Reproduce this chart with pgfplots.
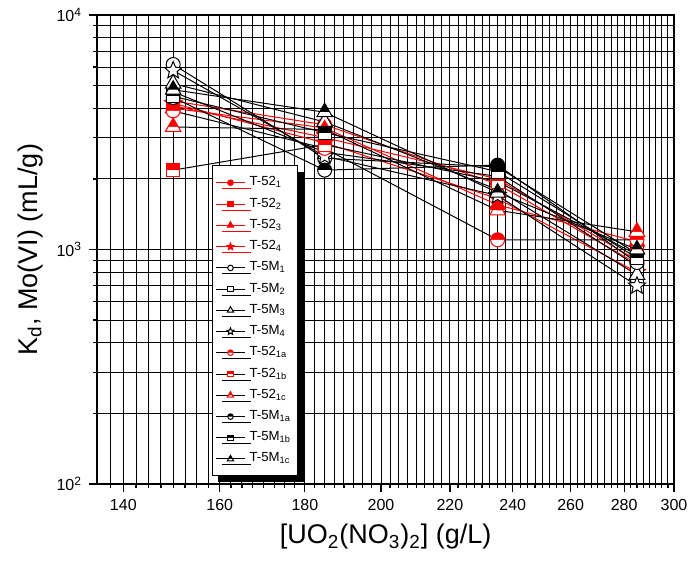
\documentclass[border=0pt]{standalone}
\usepackage{fontspec}
\setmainfont{Liberation Sans}
\usepackage{pgfplots}
\pgfplotsset{compat=1.18}
\usetikzlibrary{plotmarks,shadows}

\pgfdeclareplotmark{fstar*}{%
  \pgfpathmoveto{\pgfqpointpolar{90}{\pgfplotmarksize}}%
  \pgfpathlineto{\pgfqpointpolar{126}{0.45\pgfplotmarksize}}%
  \pgfpathlineto{\pgfqpointpolar{162}{\pgfplotmarksize}}%
  \pgfpathlineto{\pgfqpointpolar{198}{0.45\pgfplotmarksize}}%
  \pgfpathlineto{\pgfqpointpolar{234}{\pgfplotmarksize}}%
  \pgfpathlineto{\pgfqpointpolar{270}{0.45\pgfplotmarksize}}%
  \pgfpathlineto{\pgfqpointpolar{306}{\pgfplotmarksize}}%
  \pgfpathlineto{\pgfqpointpolar{342}{0.45\pgfplotmarksize}}%
  \pgfpathlineto{\pgfqpointpolar{18}{\pgfplotmarksize}}%
  \pgfpathlineto{\pgfqpointpolar{54}{0.45\pgfplotmarksize}}%
  \pgfpathclose\pgfusepathqfillstroke}

\pgfdeclareplotmark{uhalfcircle*}{%
  \pgfpathmoveto{\pgfqpoint{\pgfplotmarksize}{0pt}}%
  \pgfpatharc{0}{180}{\pgfplotmarksize}%
  \pgfpathclose\pgfusepathqfill
  \begin{pgfscope}\pgfsetfillcolor{white}%
  \pgfpathmoveto{\pgfqpoint{-\pgfplotmarksize}{0pt}}%
  \pgfpatharc{180}{360}{\pgfplotmarksize}%
  \pgfpathclose\pgfusepathqfill\end{pgfscope}%
  \pgfpathcircle{\pgfpointorigin}{\pgfplotmarksize}\pgfusepathqstroke}

\pgfdeclareplotmark{uhalfsquare*}{%
  \pgfpathrectangle{\pgfqpoint{-\pgfplotmarksize}{0pt}}{\pgfqpoint{2\pgfplotmarksize}{\pgfplotmarksize}}%
  \pgfusepathqfill
  \begin{pgfscope}\pgfsetfillcolor{white}%
  \pgfpathrectangle{\pgfqpoint{-\pgfplotmarksize}{-\pgfplotmarksize}}{\pgfqpoint{2\pgfplotmarksize}{\pgfplotmarksize}}%
  \pgfusepathqfill\end{pgfscope}%
  \pgfpathrectangle{\pgfqpoint{-\pgfplotmarksize}{-\pgfplotmarksize}}{\pgfqpoint{2\pgfplotmarksize}{2\pgfplotmarksize}}%
  \pgfusepathqstroke}

\pgfdeclareplotmark{uhalftriangle*}{%
  \pgfpathmoveto{\pgfqpointpolar{90}{\pgfplotmarksize}}%
  \pgfpathlineto{\pgfqpoint{0.577\pgfplotmarksize}{0pt}}%
  \pgfpathlineto{\pgfqpoint{-0.577\pgfplotmarksize}{0pt}}%
  \pgfpathclose\pgfusepathqfill
  \begin{pgfscope}\pgfsetfillcolor{white}%
  \pgfpathmoveto{\pgfqpoint{0.577\pgfplotmarksize}{0pt}}%
  \pgfpathlineto{\pgfqpointpolar{-30}{\pgfplotmarksize}}%
  \pgfpathlineto{\pgfqpointpolar{210}{\pgfplotmarksize}}%
  \pgfpathlineto{\pgfqpoint{-0.577\pgfplotmarksize}{0pt}}%
  \pgfpathclose\pgfusepathqfill\end{pgfscope}%
  \pgfpathmoveto{\pgfqpointpolar{90}{\pgfplotmarksize}}%
  \pgfpathlineto{\pgfqpointpolar{-30}{\pgfplotmarksize}}%
  \pgfpathlineto{\pgfqpointpolar{210}{\pgfplotmarksize}}%
  \pgfpathclose\pgfusepathqstroke}

\pgfplotsset{
  ser/.style={line width=0.5pt, mark options={solid, line width=0.5pt}},
  redfull/.style={ser, color=red, mark options={fill=red, draw=red}},
  blkopen/.style={ser, color=black, mark options={fill=white, draw=black}},
  redhalf/.style={ser, color=black, mark options={fill=red, draw=red}},
  blkhalf/.style={ser, color=black, mark options={fill=black, draw=black}},
}

\begin{document}
\begin{tikzpicture}
\path[use as bounding box] (-48.5pt,-40pt) rectangle (296.5pt,242pt);
\begin{axis}[
  at={(0,0)}, anchor=south west,
  scale only axis, width=288.5pt, height=234.5pt,
  xmode=log, ymode=log,
  xmin=135, xmax=300, ymin=100, ymax=10000,
  xtick={140,160,180,200,220,240,260,280,300},
  xticklabels={140,160,180,200,220,240,260,280,300},
  minor xtick={137.5,140,...,300},
  ytick={100,1000,10000},
  yticklabels={10\textsuperscript{2},10\textsuperscript{3},10\textsuperscript{4}},
  minor ytick={200,300,400,500,600,700,800,900,2000,3000,4000,5000,6000,7000,8000,9000},
  grid=both,
  major grid style={black, line width=0.5pt},
  minor grid style={black, line width=0.5pt},
  tick align=outside, xtick pos=left, ytick pos=left,
  major tick length=4pt, minor tick length=2pt,
  every tick/.style={black, line width=0.6pt},
  axis line style={line width=0.8pt},
  ticklabel style={font=\fontsize{8}{9}\selectfont},
  label style={font=\fontsize{13.5}{15}\selectfont},
  xlabel={[UO\textsubscript{2}(NO\textsubscript{3})\textsubscript{2}] (g/L)},
  ylabel={K\textsubscript{d}, Mo(VI) (mL/g)},
  legend cell align=left,
  legend style={at={(0.199,0.016)}, anchor=south west,
    font=\fontsize{6.6}{7}\selectfont, draw=black, line width=0.5pt, fill=white,
    row sep=0.55pt, inner xsep=1.5pt, inner ysep=3.5pt,
    drop shadow={shadow xshift=3pt, shadow yshift=-3pt, opacity=1, fill=black}},
  legend image code/.code={\draw[mark repeat=2,mark phase=2,#1,every mark/.append style={scale=0.4}] plot coordinates {(0pt,0pt) (7.3pt,0pt) (14.6pt,0pt)};},
]
% T-52 series
\addplot[redfull, mark=*, mark size=3.5pt] coordinates {(150,4300) (185,3400) (235,1900) (285,870)};
\addlegendentry{T-52\textsubscript{1}}
\addplot[redfull, mark=square*, mark size=3.3pt] coordinates {(150,4100) (185,3000) (235,2000) (285,900)};
\addlegendentry{T-52\textsubscript{2}}
\addplot[redfull, mark=triangle*, mark size=4.5pt] coordinates {(150,4000) (185,3300) (235,1550) (285,1080)};
\addlegendentry{T-52\textsubscript{3}}
\addplot[redfull, mark=fstar*, mark size=4.5pt] coordinates {(150,4200) (185,2850) (235,1650) (285,800)};
\addlegendentry{T-52\textsubscript{4}}
% T-5M series
\addplot[blkopen, mark=*, mark size=3.5pt] coordinates {(150,6150) (185,2450) (235,2250) (285,960)};
\addlegendentry{T-5M\textsubscript{1}}
\addplot[blkopen, mark=square*, mark size=3.3pt] coordinates {(150,4700) (185,2600) (235,2050) (285,850)};
\addlegendentry{T-5M\textsubscript{2}}
\addplot[blkopen, mark=triangle*, mark size=4.5pt] coordinates {(150,5100) (185,3500) (235,1800) (285,780)};
\addlegendentry{T-5M\textsubscript{3}}
\addplot[blkopen, mark=fstar*, mark size=4.5pt] coordinates {(150,5800) (185,2500) (235,1700) (285,700)};
\addlegendentry{T-5M\textsubscript{4}}
% half-filled series
\addplot[redhalf, mark=uhalfcircle*, mark size=3.5pt] coordinates {(150,3900) (185,2700) (235,1100) (285,1100)};
\addlegendentry{T-52\textsubscript{1a}}
\addplot[redhalf, mark=uhalfsquare*, mark size=3.3pt] coordinates {(150,2180) (185,2800) (235,1950) (285,950)};
\addlegendentry{T-52\textsubscript{1b}}
\addplot[redhalf, mark=uhalftriangle*, mark size=4.5pt] coordinates {(150,3330) (185,3250) (235,1470) (285,1190)};
\addlegendentry{T-52\textsubscript{1c}}
\addplot[blkhalf, mark=uhalfcircle*, mark size=3.5pt] coordinates {(150,4450) (185,2180) (235,2290) (285,880)};
\addlegendentry{T-5M\textsubscript{1a}}
\addplot[blkhalf, mark=uhalfsquare*, mark size=3.3pt] coordinates {(150,4500) (185,3150) (235,2150) (285,920)};
\addlegendentry{T-5M\textsubscript{1b}}
\addplot[blkhalf, mark=uhalftriangle*, mark size=4.5pt] coordinates {(150,4800) (185,3850) (235,1750) (285,1000)};
\addlegendentry{T-5M\textsubscript{1c}}
\end{axis}
\end{tikzpicture}
\end{document}
